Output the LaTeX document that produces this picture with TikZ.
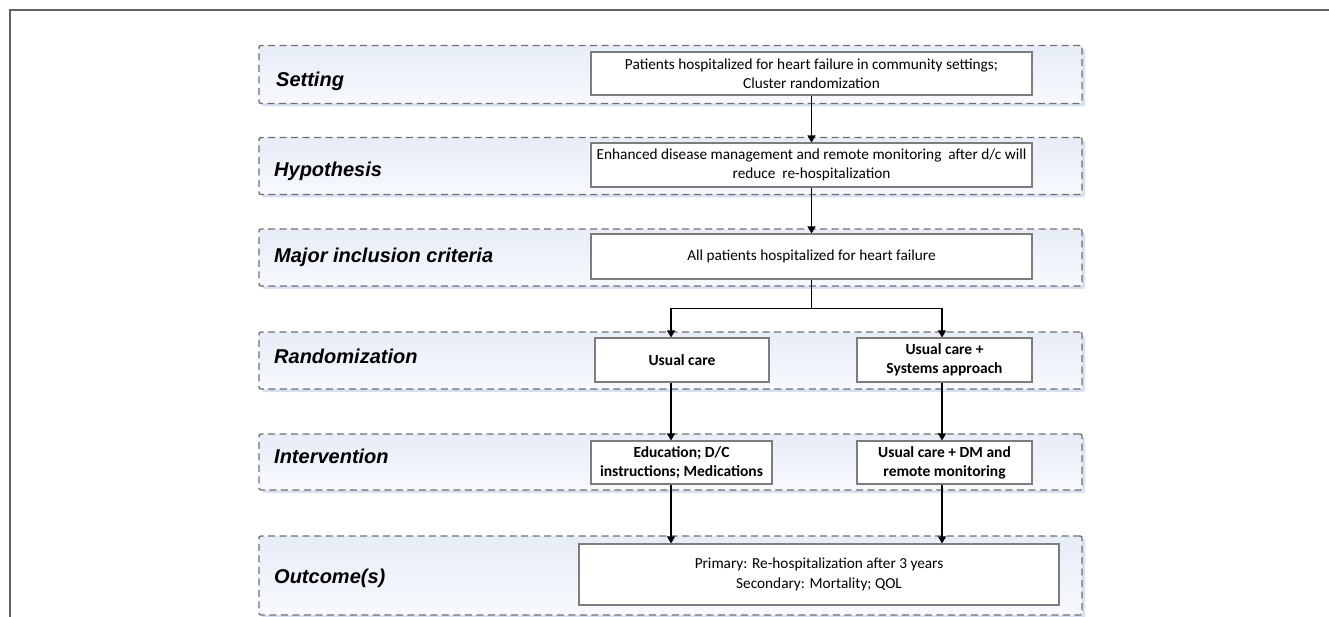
\documentclass[tikz,border=0pt]{standalone}
\usepackage{fontspec}
\setmainfont{Carlito}
\newfontfamily\tagfont{Liberation Sans}
\usetikzlibrary{arrows.meta, positioning, shadows}
\definecolor{bandtop}{RGB}{231,237,247}
\definecolor{bandbot}{RGB}{247,249,253}
\definecolor{bandshadow}{RGB}{214,224,241}
\definecolor{dashgray}{RGB}{112,112,112}
\definecolor{boxgray}{RGB}{125,125,125}
\definecolor{framegray}{RGB}{95,95,95}

\begin{document}
\begin{tikzpicture}[x=1pt,y=-1pt,node distance=20pt,
    band/.style={draw=dashgray,line width=1.4pt,dash pattern=on 7pt off 4.5pt,
      rounded corners=2pt,top color=bandtop,bottom color=bandbot,
      minimum width=823pt,inner sep=0pt,
      drop shadow={shadow xshift=3pt,shadow yshift=-3pt,fill=bandshadow,opacity=1}},
    box/.style={draw=boxgray,line width=1.1pt,fill=white,inner sep=0pt,align=center,
      font=\fontsize{15.3}{19.5}\selectfont},
    boldbox/.style={box,font=\fontsize{15.5}{19}\selectfont\bfseries},
    tag/.style={anchor=base west,inner sep=0pt,
      font=\tagfont\bfseries\itshape\fontsize{20}{24}\selectfont},
    arr/.style={-{Triangle[length=7pt,width=8pt]},line width=1.3pt}]
      \useasboundingbox (0,0) rectangle (1329,617);
      \draw[framegray,line width=1.3pt] (1329,10) -- (10,10) -- (10,617);

      % dashed rows
      \node[band,minimum height=58pt] (band_1) at (670.5,74.5) {};
      \node[band,minimum height=57pt] (band_2) at (670.5,166) {};
      \node[band,minimum height=57pt] (band_3) at (670.5,257.5) {};
      \node[band,minimum height=57pt] (band_4) at (670.5,360.5) {};
      \node[band,minimum height=56pt] (band_5) at (670.5,462) {};
      \node[band,minimum height=79pt] (band_6) at (670.5,575.5) {};

      \node[tag] (t_1) at (276,87) {Setting};
      \node[tag] (t_2) at (274,177) {Hypothesis};
      \node[tag] (t_3) at (274,263) {Major inclusion criteria};
      \node[tag] (t_4) at (274,363) {Randomization};
      \node[tag] (t_5) at (274,463) {Intervention};
      \node[tag] (t_6) at (274,583) {Outcome(s)};

      % boxes
      \node[box,minimum width=441pt,minimum height=43pt] (setting) at (811.5,73.5)
        {Patients hospitalized for heart failure in community settings;\\Cluster randomization};
      \node[box,minimum width=441pt,minimum height=44pt] (hypo) at (811.5,165)
        {Enhanced disease management and remote monitoring\ \ after d/c will\\reduce\ \ re-hospitalization};
      \node[box,minimum width=441pt,minimum height=45pt] (incl) at (811.5,256.5)
        {All patients hospitalized for heart failure};
      \node[boldbox,minimum width=174pt,minimum height=44pt] (rand_l) at (682,360) {Usual care};
      \node[boldbox,minimum width=175pt,minimum height=44pt] (rand_r) at (944.5,360)
        {Usual care +\\Systems approach};
      \node[boldbox,minimum width=181pt,minimum height=43pt] (int_l) at (681.5,462.5)
        {Education; D/C\\instructions; Medications};
      \node[boldbox,minimum width=175pt,minimum height=43pt] (int_r) at (944.5,462.5)
        {Usual care + DM and\\remote monitoring};
      \node[box,minimum width=480pt,minimum height=61pt] (outc) at (819,574.5)
        {Primary: Re-hospitalization after 3 years\\Secondary: Mortality; QOL};

      \coordinate[below=29pt of incl.south] (fork);
      \coordinate (col_l) at (671,0);
      \coordinate (col_r) at (942,0);

      \draw[arr] (setting) -- (hypo);
      \draw[arr] (hypo) -- (incl);
      \draw[line width=1.3pt] (incl) -- (fork);
      \draw[arr] (fork) -| (col_l |- rand_l.north);
      \draw[arr] (fork) -| (col_r |- rand_r.north);
      \draw[arr] (col_l |- rand_l.south) -- (col_l |- int_l.north);
      \draw[arr] (col_r |- rand_r.south) -- (col_r |- int_r.north);
      \draw[arr] (col_l |- int_l.south) -- (col_l |- outc.north);
      \draw[arr] (col_r |- int_r.south) -- (col_r |- outc.north);
\end{tikzpicture}
\end{document}
